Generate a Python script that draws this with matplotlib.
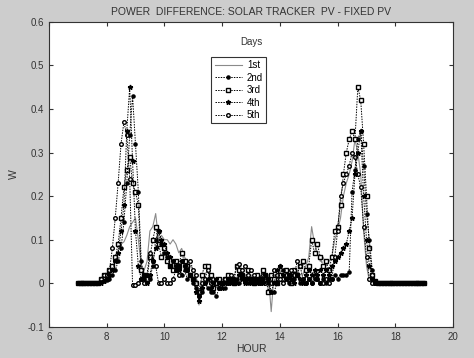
import numpy as np
import matplotlib
matplotlib.use("Agg")
import matplotlib.pyplot as plt

plt.rcParams['font.family'] = ['Liberation Sans', 'DejaVu Sans']

# hours, 7.0 .. 19.0 every 0.1 h
hours = np.round(np.arange(70, 191) / 10.0, 1)

day1 = [0, 0, 0, 0, 0, 0, 0, 0, 0.002, 0.005,
        0.01, 0.02, 0.035, 0.05, 0.075, 0.09, 0.095, 0.11, 0.13, 0.14,
        0.15, 0.10, 0.04, 0.03, 0.05, 0.12, 0.13, 0.16, 0.10, 0.11,
        0.10, 0.10, 0.09, 0.10, 0.09, 0.07, 0.08, 0.06, 0.05, 0.04,
        0.03, 0.01, -0.05, 0.01, 0.02, 0.03, 0.01, 0.00, -0.01, 0.00,
        0.01, 0.00, 0.01, 0.02, 0.00, 0.01, 0.03, 0.01, 0.02, 0.01,
        0.02, 0.00, 0.01, 0.02, 0.00, 0.01, 0.02, -0.065, 0.02, 0.01,
        0.03, 0.01, 0.02, 0.00, 0.02, 0.01, 0.03, 0.02, 0.02, 0.04,
        0.06, 0.13, 0.09, 0.07, 0.05, 0.06, 0.04, 0.05, 0.06, 0.10,
        0.12, 0.15, 0.20, 0.23, 0.25, 0.28, 0.33, 0.30, 0.25, 0.12,
        0.04, 0.005, 0, 0, 0, 0, 0, 0, 0, 0,
        0, 0, 0, 0, 0, 0, 0, 0, 0, 0,
        0]

day2 = [0, 0, 0, 0, 0, 0, 0, 0, 0.003, 0.005,
        0.008, 0.01, 0.02, 0.03, 0.05, 0.08, 0.14, 0.23, 0.34, 0.43,
        0.32, 0.21, 0.05, 0.01, 0.02, 0.01, 0.04, 0.10, 0.12, 0.09,
        0.07, 0.06, 0.04, 0.05, 0.03, 0.04, 0.02, 0.03, 0.01, 0.02,
        0.00, -0.01, -0.03, -0.02, 0.00, -0.01, -0.02, -0.02, -0.03, -0.01,
        0.00, -0.01, 0.00, 0.01, 0.00, 0.01, 0.00, 0.02, 0.01, 0.00,
        0.01, 0.00, 0.01, 0.00, 0.01, 0.02, 0.00, -0.02, -0.02, 0.00,
        0.04, 0.03, 0.01, 0.00, 0.02, 0.01, 0.02, 0.00, 0.01, 0.00,
        0.01, 0.00, 0.01, 0.01, 0.00, 0.01, 0.00, 0.01, 0.01, 0.02,
        0.01, 0.02, 0.02, 0.02, 0.025, 0.21, 0.26, 0.33, 0.35, 0.27,
        0.16, 0.10, 0.03, 0.005, 0, 0, 0, 0, 0, 0,
        0, 0, 0, 0, 0, 0, 0, 0, 0, 0,
        0]

day3 = [0, 0, 0, 0, 0, 0, 0, 0, 0.01, 0.02,
        0.02, 0.03, 0.04, 0.06, 0.09, 0.15, 0.22, 0.26, 0.29, 0.23,
        0.21, 0.18, 0.03, 0.02, 0.01, 0.06, 0.10, 0.13, 0.09, 0.06,
        0.08, 0.05, 0.04, 0.03, 0.05, 0.04, 0.07, 0.05, 0.04, 0.02,
        0.01, 0.00, -0.02, 0.02, 0.04, 0.04, 0.02, -0.01, 0.00, 0.01,
        0.00, 0.01, 0.02, 0.01, 0.00, 0.04, 0.03, 0.02, 0.01, 0.03,
        0.01, 0.00, 0.02, 0.01, 0.03, 0.02, -0.02, 0.02, 0.01, 0.00,
        0.02, 0.01, 0.03, 0.02, 0.00, 0.03, 0.02, 0.04, 0.05, 0.03,
        0.04, 0.10, 0.07, 0.09, 0.06, 0.04, 0.05, 0.03, 0.06, 0.12,
        0.13, 0.18, 0.25, 0.30, 0.33, 0.35, 0.33, 0.45, 0.42, 0.32,
        0.20, 0.08, 0.02, 0.005, 0, 0, 0, 0, 0, 0,
        0, 0, 0, 0, 0, 0, 0, 0, 0, 0,
        0]

day4 = [0, 0, 0, 0, 0, 0, 0, 0, 0, 0.005,
        0.01, 0.02, 0.03, 0.05, 0.07, 0.12, 0.18, 0.35, 0.45, 0.28,
        0.12, 0.04, 0.01, 0.02, 0.00, 0.02, 0.05, 0.08, 0.12, 0.10,
        0.09, 0.07, 0.06, 0.05, 0.04, 0.03, 0.05, 0.04, 0.03, 0.02,
        0.01, -0.02, -0.04, -0.01, 0.00, 0.01, -0.01, 0.00, 0.01, 0.00,
        -0.01, 0.00, 0.01, 0.00, 0.01, 0.00, 0.02, 0.01, 0.00, 0.01,
        0.00, 0.01, 0.00, 0.01, 0.00, 0.02, 0.01, -0.02, 0.00, 0.03,
        0.04, 0.02, 0.01, 0.02, 0.01, 0.00, 0.02, 0.01, 0.00, 0.02,
        0.03, 0.02, 0.03, 0.02, 0.03, 0.02, 0.03, 0.02, 0.04, 0.05,
        0.06, 0.07, 0.08, 0.09, 0.12, 0.15, 0.25, 0.30, 0.35, 0.20,
        0.10, 0.04, 0.01, 0, 0, 0, 0, 0, 0, 0,
        0, 0, 0, 0, 0, 0, 0, 0, 0, 0,
        0]

day5 = [0, 0, 0, 0, 0, 0, 0, 0, 0.01, 0.02,
        0.02, 0.03, 0.08, 0.15, 0.23, 0.32, 0.37, 0.34, 0.24, -0.005,
        -0.003, 0.00, 0.01, 0.00, 0.02, 0.07, 0.05, 0.04, 0.00, 0.00,
        0.01, 0.00, 0.00, 0.01, 0.03, 0.02, 0.05, 0.04, 0.03, 0.05,
        0.03, 0.02, -0.03, 0.00, 0.01, 0.03, 0.00, 0.01, 0.00, -0.01,
        0.00, 0.01, 0.00, 0.02, 0.01, 0.04, 0.045, 0.03, 0.04, 0.02,
        0.03, 0.02, 0.01, 0.00, 0.02, 0.00, 0.01, 0.00, 0.03, 0.02,
        0.01, 0.00, 0.02, 0.01, 0.03, 0.02, 0.05, 0.04, 0.01, 0.00,
        0.01, 0.00, 0.02, 0.01, 0.00, 0.00, 0.01, 0.00, 0.01, 0.06,
        0.12, 0.20, 0.23, 0.25, 0.27, 0.30, 0.29, 0.25, 0.22, 0.13,
        0.06, 0.01, 0.00, 0, 0, 0, 0, 0, 0, 0,
        0, 0, 0, 0, 0, 0, 0, 0, 0, 0,
        0]

labels = ['1st', '2nd', '3rd', '4th', '5th']

fig = plt.figure(figsize=(4.74, 3.58), dpi=100, facecolor='#cdcdcd')
ax = fig.add_axes([0.103, 0.087, 0.853, 0.852])

dot = (0, (1.5, 1.2))
ax.plot(hours, day1, '-', color='#8a8a8a', lw=0.8, label=labels[0])
ax.plot(hours, day2, color='black', ls=dot, lw=0.7, marker='.', ms=4.5,
        label=labels[1], zorder=4)
ax.plot(hours, day3, color='black', ls=dot, lw=0.7, marker='s', ms=2.6,
        mfc='white', mew=1.0, label=labels[2])
ax.plot(hours, day4, color='black', ls=dot, lw=0.7, marker='*', ms=3.5,
        label=labels[3], zorder=4)
ax.plot(hours, day5, color='black', ls=dot, lw=0.7, marker='o', ms=2.6,
        mfc='white', mew=1.0, label=labels[4])

ax.set_xlim(6, 20)
ax.set_ylim(-0.1, 0.6)
ax.set_xticks([6, 8, 10, 12, 14, 16, 18, 20])
ax.set_yticks([-0.1, 0, 0.1, 0.2, 0.3, 0.4, 0.5, 0.6])
ax.set_yticklabels(['-0.1', '0', '0.1', '0.2', '0.3', '0.4', '0.5', '0.6'])
ax.tick_params(direction='in', top=True, right=True, labelsize=7,
               length=3, colors='#333333')
for s in ax.spines.values():
    s.set_color('#333333')
    s.set_linewidth(0.8)

ax.set_title('POWER  DIFFERENCE: SOLAR TRACKER  PV - FIXED PV',
             fontsize=7.5, color='#333333', pad=5)
ax.set_xlabel('HOUR', fontsize=7.5, color='#333333', labelpad=2)
ax.set_ylabel('W', fontsize=7.5, color='#333333', labelpad=6)

leg = ax.legend(loc='upper left', bbox_to_anchor=(0.402, 0.885),
                fontsize=7, frameon=True, fancybox=False,
                edgecolor='black', handlelength=2.8, borderpad=0.35,
                labelspacing=0.25, handletextpad=0.5, borderaxespad=0)
leg.get_frame().set_linewidth(0.8)
leg.set_zorder(6)
ax.text(0.5, 0.935, 'Days', transform=ax.transAxes, ha='center',
        va='center', fontsize=7, color='#333333')

fig.savefig('out.png', dpi=100, facecolor=fig.get_facecolor())
